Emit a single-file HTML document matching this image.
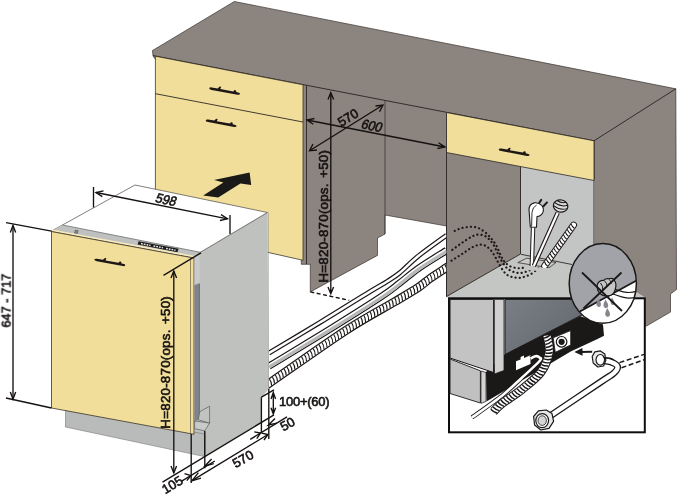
<!DOCTYPE html>
<html lang="en">
<head>
<meta charset="utf-8">
<title>Dishwasher installation dimensions</title>
<style>
html,body{margin:0;padding:0;background:#fff;}
body{width:679px;height:497px;overflow:hidden;}
svg{display:block;}
text{font-family:"Liberation Sans",Arial,sans-serif;font-size:13px;fill:#161312;stroke:#161312;stroke-width:0.6px;}
.ln{stroke:#231f1e;stroke-width:0.85;fill:none;}
.dim{stroke:#151211;stroke-width:1.35;fill:none;}
</style>
</head>
<body>
<svg width="679" height="497" viewBox="0 0 679 497">
<rect width="679" height="497" fill="#fff"/>

<!-- ===== CABINET BLOCK ===== -->
<g id="cabinet" stroke-linejoin="round">
  <!-- gray body: worktop + niche walls + right side -->
  <polygon points="152.5,50.5 234.3,1.5 675.8,88.8 676.5,289.5 670.5,294 670.5,312 646.5,326 594,326 594,300 446.5,296.5 446.5,226 385,215 385,234 377.5,238 377.5,255.4 310.3,291.9 310.3,264.3 301.3,264.3 301.3,258 153,56" fill="#8b847f" stroke="#3a3431" stroke-width="0.7"/>
  <!-- light floor of right cabinet -->
  <polygon points="446.6,296.6 520.5,254 595,266 646,298 448,298" fill="#c4c6c4"/>
  <!-- light back wall of right cabinet -->
  <polygon points="521,166 595,180 595,270 572,264.5 521,254.5" fill="#c3c5c4"/>
  <!-- worktop edges -->
  <path class="ln" d="M594,140.8 L675.8,88.8"/>
  <path class="ln" d="M153,55.6 L594,140.8"/>
  <path class="ln" d="M594,140.8 V300"/>
  <!-- niche lines -->
  <path class="ln" d="M306.5,85.5 V264 M446.5,112.5 V296.5"/>
  <path class="ln" d="M385,100.5 V234" style="stroke-width:0.6"/>
  
  <path class="ln" d="M446.6,296.5 L520.5,254 V167" stroke-width="0.8"/>
  <path class="ln" d="M521,254.3 L572,264.5" stroke-width="0.7"/>
  <!-- left yellow cabinet -->
  <polygon points="155.4,56.2 303,84.8 303,260.3 155.4,227" fill="#f1de9a" stroke="#332d26" stroke-width="0.75"/>
  <path class="ln" d="M155.4,93.7 L303,122"/>
  <!-- right yellow drawer -->
  <polygon points="446.5,112.5 594,140.8 594,180.5 446.5,152.5" fill="#f1de9a" stroke="#2b2624" stroke-width="0.8"/>
  <!-- handles -->
  <g fill="#1d1817">
    <path d="M209.2,88.2 q0.3,-1.1 2.5,-0.8 l6,1 l2,-1.900 l1.500,0.300 l-0.900,2.200 l13,2.400 l1.200,-1.300 l1.500,0.300 l0.300,1.700 l2.500,0.600 q1.500,0.500 1.200,1.400 q-0.400,0.900 -2.400,0.600 l-26,-4.800 q-2.500,-0.700 -2.400,-1.700z"/>
    <path d="M205.7,120.4 q0.3,-1.1 2.5,-0.8 l6,1 l2,-1.900 l1.500,0.300 l-0.900,2.200 l13,2.400 l1.200,-1.300 l1.500,0.300 l0.300,1.700 l2.500,0.600 q1.500,0.500 1.200,1.400 q-0.400,0.900 -2.400,0.600 l-26,-4.800 q-2.500,-0.700 -2.400,-1.700z"/>
    <path d="M498.7,149.4 q0.3,-1.1 2.5,-0.8 l6,1 l2,-1.900 l1.500,0.300 l-0.900,2.200 l13,2.400 l1.200,-1.300 l1.500,0.300 l0.300,1.700 l2.500,0.600 q1.500,0.500 1.200,1.400 q-0.400,0.900 -2.400,0.600 l-26,-4.800 q-2.500,-0.700 -2.400,-1.700z"/>
  </g>
</g>

<!-- ===== HOSES from dishwasher to cabinet ===== -->
<clipPath id="cH"><rect x="268.6" y="200" width="177.6" height="220"/></clipPath>
<g id="hoses" fill="none" stroke-linejoin="round" clip-path="url(#cH)">
  <!-- cable A -->
  <path d="M268.8,353.1 C277.2,348.1 302.5,333.1 319.4,322.8 C336.3,312.6 358.6,298.5 370.0,291.6 C381.4,284.7 382.6,284.3 387.5,281.2 C392.4,278.1 394.3,277.2 399.5,273.0 C404.7,268.8 410.8,262.1 418.6,255.8 C426.5,249.5 441.9,238.6 446.6,235.2" stroke="#1c1817" stroke-width="4.9"/>
  <path d="M268.8,353.1 C277.2,348.1 302.5,333.1 319.4,322.8 C336.3,312.6 358.6,298.5 370.0,291.6 C381.4,284.7 382.6,284.3 387.5,281.2 C392.4,278.1 394.3,277.2 399.5,273.0 C404.7,268.8 410.8,262.1 418.6,255.8 C426.5,249.5 441.9,238.6 446.6,235.2" stroke="#fff" stroke-width="2.5"/>
  <!-- hose B -->
  <path d="M268.8,366.3 C279.8,359.6 316.2,337.7 335.0,326.0 C353.8,314.3 371.1,303.4 381.8,296.3 C392.6,289.2 393.4,287.9 399.5,283.2 C405.6,278.5 410.8,273.7 418.6,268.2 C426.5,262.7 441.9,253.4 446.6,250.4" stroke="#1c1817" stroke-width="7.2"/>
  <path d="M268.8,366.3 C279.8,359.6 316.2,337.7 335.0,326.0 C353.8,314.3 371.1,303.4 381.8,296.3 C392.6,289.2 393.4,287.9 399.5,283.2 C405.6,278.5 410.8,273.7 418.6,268.2 C426.5,262.7 441.9,253.4 446.6,250.4" stroke="#fff" stroke-width="4.8"/>
  <path d="M269.2,367.0 C280.2,360.3 316.6,338.4 335.4,326.7 C354.2,315.0 371.4,304.1 382.2,297.0 C392.9,289.9 393.8,288.6 399.9,283.9 C406.0,279.2 411.1,274.4 419.0,268.9 C426.9,263.4 442.3,254.1 447.0,251.1" stroke="#b7b8b8" stroke-width="3.2"/>
  <!-- corrugated hose C -->
  <path d="M264.0,386.8 C264.8,386.3 255.3,392.9 268.8,383.6 C282.3,374.3 324.0,344.7 345.0,331.0 C366.0,317.3 382.7,308.8 395.0,301.5 C407.3,294.2 412.8,291.0 418.6,287.2 C424.4,283.4 425.3,281.8 430.0,278.5 C434.7,275.2 443.3,269.7 446.6,267.5 C449.9,265.3 449.4,265.7 450.0,265.3" stroke="#1c1817" stroke-width="8.8"/>
  <path d="M264.0,386.8 C264.8,386.3 255.3,392.9 268.8,383.6 C282.3,374.3 324.0,344.7 345.0,331.0 C366.0,317.3 382.7,308.8 395.0,301.5 C407.3,294.2 412.8,291.0 418.6,287.2 C424.4,283.4 425.3,281.8 430.0,278.5 C434.7,275.2 443.3,269.7 446.6,267.5 C449.9,265.3 449.4,265.7 450.0,265.3" stroke="#fff" stroke-width="6.4"/>
  <path d="M263.0,383.5Q265.0,386.1 265.0,390.1M260.8,385.1Q262.8,387.7 262.8,391.7M263.7,383.1Q265.7,385.7 265.8,389.7M266.6,381.1Q268.6,383.7 268.7,387.7M269.5,379.1Q271.6,381.7 271.6,385.7M272.4,377.1Q274.5,379.7 274.5,383.6M275.3,375.0Q277.4,377.6 277.5,381.6M278.2,373.0Q280.3,375.6 280.4,379.6M281.1,371.0Q283.2,373.6 283.3,377.5M284.0,368.9Q286.1,371.5 286.2,375.5M286.9,366.9Q289.0,369.5 289.1,373.4M289.9,364.9Q291.9,367.4 292.0,371.4M292.8,362.8Q294.8,365.4 294.9,369.4M295.7,360.8Q297.7,363.4 297.8,367.3M298.6,358.8Q300.6,361.3 300.7,365.3M301.5,356.7Q303.6,359.3 303.6,363.3M304.4,354.7Q306.5,357.3 306.5,361.2M307.3,352.7Q309.4,355.3 309.5,359.2M310.2,350.6Q312.3,353.2 312.4,357.2M313.2,348.6Q315.2,351.2 315.3,355.2M316.1,346.6Q318.1,349.2 318.2,353.1M319.0,344.6Q321.0,347.2 321.1,351.1M321.9,342.5Q324.0,345.2 324.0,349.1M324.9,340.5Q326.9,343.1 327.0,347.1M327.8,338.5Q329.8,341.1 329.9,345.1M330.8,336.5Q332.8,339.1 332.8,343.1M333.7,334.5Q335.7,337.2 335.7,341.1M336.7,332.6Q338.7,335.2 338.7,339.2M339.6,330.6Q341.6,333.2 341.6,337.2M342.6,328.6Q344.6,331.3 344.6,335.2M345.6,326.7Q347.6,329.3 347.5,333.3M348.6,324.8Q350.6,327.4 350.5,331.4M351.6,322.9Q353.6,325.6 353.4,329.5M354.7,321.0Q356.6,323.7 356.4,327.7M357.7,319.1Q359.6,321.8 359.5,325.8M360.8,317.3Q362.7,320.0 362.5,324.0M363.9,315.5Q365.7,318.2 365.5,322.2M367.0,313.7Q368.8,316.4 368.6,320.4M370.1,311.9Q371.9,314.7 371.6,318.6M373.2,310.1Q375.0,312.9 374.7,316.9M376.3,308.4Q378.0,311.2 377.8,315.1M379.3,306.6Q381.1,309.4 380.8,313.4M382.4,304.9Q384.2,307.7 383.9,311.6M385.5,303.2Q387.3,305.9 387.0,309.9M388.6,301.4Q390.4,304.2 390.1,308.1M391.7,299.6Q393.5,302.4 393.2,306.4M394.7,297.9Q396.5,300.6 396.3,304.5M397.7,296.0Q399.6,298.8 399.4,302.7M400.8,294.2Q402.6,297.0 402.4,300.9M403.8,292.4Q405.7,295.1 405.5,299.1M406.9,290.6Q408.7,293.3 408.5,297.3M409.9,288.8Q411.8,291.5 411.6,295.5M412.9,286.9Q414.8,289.6 414.7,293.6M415.9,285.1Q417.8,287.7 417.7,291.7M418.7,283.1Q420.7,285.7 420.8,289.7M421.4,281.1Q423.6,283.6 423.9,287.6M424.0,278.9Q426.3,281.3 426.7,285.3M426.9,276.6Q429.1,279.1 429.4,283.1M430.0,274.5Q432.0,277.1 432.1,281.1M433.0,272.5Q435.0,275.1 435.0,279.1M435.9,270.5Q437.9,273.2 437.9,277.1M438.9,268.6Q440.9,271.2 440.9,275.2M441.9,266.6Q443.9,269.3 443.8,273.3M444.9,264.7Q446.8,267.3 446.8,271.3M447.8,262.7Q449.8,265.4 449.8,269.4" stroke="#1c1817" stroke-width="1.15"/>
</g>

<!-- dotted hidden hoses -->
<g fill="none" stroke="#1d1817" stroke-width="2.2" stroke-dasharray="0.1 4.1" stroke-linecap="round">
  <path d="M454.7,230.9 C455.7,230.5 458.5,229.0 460.5,228.4 C462.5,227.8 464.8,227.4 466.9,227.2 C469.0,226.9 471.0,226.7 473.0,226.9 C475.0,227.1 476.9,227.3 479.0,228.3 C481.1,229.3 483.8,231.2 485.8,232.8 C487.8,234.5 489.3,236.2 491.0,238.2 C492.7,240.2 494.6,242.7 496.0,245.0 C497.4,247.3 498.2,250.0 499.3,252.3 C500.4,254.6 501.5,257.1 502.5,258.8 C503.5,260.6 504.2,261.6 505.5,262.8 C506.8,264.0 508.2,265.3 510.0,266.2 C511.8,267.1 514.1,267.7 516.0,268.0 C517.9,268.3 519.8,268.3 521.5,268.1 C523.2,267.9 525.2,266.9 526.0,266.6"/>
  <path d="M452.3,249.8 C453.5,248.9 457.2,246.2 459.6,244.5 C462.0,242.8 464.0,241.3 466.4,239.8 C468.8,238.3 471.6,236.6 473.8,235.7 C476.0,234.8 477.6,234.5 479.5,234.6 C481.4,234.7 483.5,235.2 485.2,236.1 C486.9,237.0 488.4,238.5 489.8,240.0 C491.2,241.5 492.4,242.9 493.6,245.0 C494.8,247.1 496.0,249.9 497.2,252.3 C498.4,254.7 499.5,257.2 500.9,259.6 C502.3,262.0 504.1,265.0 505.8,266.9 C507.5,268.8 509.1,269.8 511.0,270.8 C512.9,271.8 515.1,272.6 517.1,272.9 C519.1,273.2 521.0,273.0 523.0,272.6 C525.0,272.2 527.6,271.1 529.3,270.4 C531.0,269.7 532.4,268.6 533.0,268.2"/>
  <path d="M451.5,260.7 C452.7,259.9 456.4,257.5 458.8,256.0 C461.2,254.5 463.4,253.0 465.7,251.5 C468.0,250.0 470.2,248.2 472.6,247.1 C475.0,246.0 477.7,244.9 479.8,244.7 C481.9,244.5 483.7,245.0 485.5,245.8 C487.3,246.7 488.8,248.1 490.4,249.8 C492.0,251.6 493.5,254.0 494.9,256.3 C496.3,258.6 497.4,261.2 498.8,263.6 C500.2,266.0 501.8,268.9 503.3,270.9 C504.8,272.9 506.2,274.3 508.0,275.4 C509.8,276.5 511.9,277.0 513.9,277.4 C515.9,277.8 518.0,278.0 520.0,277.8 C522.0,277.6 524.0,277.0 526.0,276.3 C528.0,275.6 530.2,274.6 532.0,273.4 C533.8,272.2 535.8,270.4 537.0,269.3 C538.2,268.2 539.1,267.2 539.5,266.8"/>
</g>

<!-- ===== things in right cabinet ===== -->
<g id="cabinet-things">
  <!-- slot in floor -->
  <polygon points="517.8,262.6 526.6,258.2 556,262.5 549,267.8" fill="#c9cbc9" stroke="#231f1e" stroke-width="0.7"/>
  <!-- plug cable -->
  <path d="M533.2,224 L531.8,266" stroke="#1c1817" stroke-width="4.4" fill="none"/>
  <path d="M533.2,224 L531.8,266" stroke="#fff" stroke-width="2.4" fill="none"/>
  <!-- plug -->
  <path d="M529,209.5 q0.300,-5.500 5.200,-6.600 q4.600,-0.700 7.600,2.600 q2.800,3.600 0.800,7.600 q-1.800,3.300 -5.600,3.500 l-0.500,10.600 l-6.200,-0.200z" fill="#fff" stroke="#1c1817" stroke-width="1.1" stroke-linejoin="round"/>
  <path d="M531.6,226.500 l0.400,-14 q0.400,-5.500 4.600,-7.500" fill="none" stroke="#1c1817" stroke-width="0.9"/>
  <path d="M539.300,202.700 l1.900,-2.800 M543.400,206.200 l3.600,-3.800" stroke="#1c1817" stroke-width="2" fill="none" stroke-linecap="round"/>
  <!-- shower hose -->
  <path d="M557.7,212.7 L533.8,266" stroke="#1c1817" stroke-width="4.400" fill="none"/>
  <path d="M557.7,212.7 L533.8,266" stroke="#fff" stroke-width="2.200" fill="none"/>
  <g transform="rotate(12 560.6 206)">
    <ellipse cx="560.6" cy="206" rx="7.300" ry="6.100" fill="#dcdcdc" stroke="#1c1817" stroke-width="1.200"/>
    <path d="M553.900,203.800 q6.700,3.600 13.600,0 M553.700,207.200 q6.900,3.600 13.800,0 M555.600,201.200 q5,2.400 10,0" fill="none" stroke="#1c1817" stroke-width="1"/>
  </g>
  <!-- corrugated hose -->
  <path d="M573.6,225 L544.6,266" stroke="#1c1817" stroke-width="6.8" fill="none" stroke-linecap="round"/>
  <path d="M573.6,225 L544.6,266" stroke="#fff" stroke-width="4.8" fill="none" stroke-linecap="round"/>
  <path d="M574.3,228.3Q572.2,227.0 571.2,224.1M572.4,231.0Q570.3,229.7 569.2,226.8M570.5,233.7Q568.4,232.3 567.3,229.5M568.6,236.4Q566.5,235.0 565.4,232.2M566.7,239.1Q564.6,237.7 563.5,234.9M564.8,241.8Q562.7,240.4 561.6,237.6M562.9,244.5Q560.8,243.1 559.7,240.3M561.0,247.2Q558.9,245.8 557.8,243.0M559.1,249.9Q557.0,248.5 555.9,245.7M557.2,252.6Q555.1,251.2 554.0,248.4M555.3,255.3Q553.2,253.9 552.1,251.1M553.4,258.0Q551.3,256.6 550.2,253.8M551.4,260.7Q549.3,259.3 548.3,256.5M549.5,263.3Q547.4,262.0 546.4,259.2M547.6,266.0Q545.5,264.7 544.5,261.8" stroke="#1c1817" stroke-width="1.1" fill="none"/>
  <!-- floor covers bottom of hoses -->
  <polygon points="527,266.500 550,268.200 552,272 526,270" fill="#c4c6c4"/>
</g>

<!-- ===== INSET BOX ===== -->
<g id="inset">
  <rect x="449" y="298.3" width="195.8" height="134" fill="#fff" stroke="#0f0d0d" stroke-width="2"/>
  <!-- black base -->
  <polygon points="486,372 505,354 580,316 603,324.4 604,335.8 597.5,339 570.7,351.4 486.5,401.5" fill="#1b1818"/>
  <!-- back panel -->
  <linearGradient id="gBack" x1="0" y1="0" x2="1" y2="0.6">
    <stop offset="0" stop-color="#7a7f86"/><stop offset="1" stop-color="#62666d"/>
  </linearGradient>
  <polygon points="505,299.4 600,299.4 600,306 579,316.4 505,354.5" fill="url(#gBack)" stroke="#1b1818" stroke-width="1"/>
  <!-- side panel -->
  <polygon points="450,299.4 493.6,299.4 493.6,372.5 450,358" fill="#c2c3c2" stroke="#1b1818" stroke-width="1"/>
  <polygon points="494.4,299.4 504,299.4 504,370.5 494.4,374" fill="#cfd0cf" stroke="#1b1818" stroke-width="0.8"/>
  <!-- plinth -->
  <polygon points="450,359 480.4,370.8 480.4,403 450,393.5" fill="#bfc0bf" stroke="#1b1818" stroke-width="0.9"/>
  <polygon points="481,371 486,372.5 486,401.5 481,403.3" fill="#d2d3d2" stroke="#1b1818" stroke-width="0.7"/>
  <!-- connector -->
  <path d="M516,361.3 l4.6,-1.9 v-2.4 l3.4,-1.4 v2.400 l6.500,-2.700 v8.800 l-14.500,6.200z" fill="#fff"/>
  <!-- white cable -->
  <path d="M530.5,358.6 C531.3,358.2 534.0,356.4 535.5,356.2 C537.0,356.0 538.9,356.8 539.6,357.6 C540.3,358.4 542.6,357.6 539.6,361.0 C536.6,364.4 527.6,372.5 521.4,378.2 C515.2,383.9 510.5,388.8 502.3,395.4 C494.1,401.9 477.1,413.8 472.0,417.5" stroke="#1b1818" stroke-width="4.4" fill="none"/>
  <path d="M530.5,358.6 C531.3,358.2 534.0,356.4 535.5,356.2 C537.0,356.0 538.9,356.8 539.6,357.6 C540.3,358.4 542.6,357.6 539.6,361.0 C536.6,364.4 527.6,372.5 521.4,378.2 C515.2,383.9 510.5,388.8 502.3,395.4 C494.1,401.9 477.1,413.8 472.0,417.5" stroke="#fff" stroke-width="2.6" fill="none"/>
  <!-- corrugated hose -->
  <path d="M547.0,335.5 C547.4,338.2 550.2,345.9 549.2,352.0 C548.2,358.1 545.6,365.7 541.0,372.0 C536.4,378.3 527.9,384.5 521.4,389.7 C514.9,394.9 506.9,399.7 502.3,403.3 C497.7,406.9 495.0,410.1 493.5,411.5" stroke="#1b1818" stroke-width="9" fill="none"/>
  <path d="M547.0,335.5 C547.4,338.2 550.2,345.9 549.2,352.0 C548.2,358.1 545.6,365.7 541.0,372.0 C536.4,378.3 527.9,384.5 521.4,389.7 C514.9,394.9 506.9,399.7 502.3,403.3 C497.7,406.9 495.0,410.1 493.5,411.5" stroke="#fff" stroke-width="7" fill="none"/>
  <path d="M544.0,338.1Q547.4,337.6 550.4,334.9M544.8,341.4Q548.2,340.8 551.1,338.0M545.4,344.5Q548.9,344.0 551.9,341.3M545.9,347.5Q549.4,347.3 552.6,344.9M545.9,350.3Q549.4,350.6 552.9,348.6M545.5,353.0Q548.9,353.8 552.7,352.5M544.8,356.0Q548.1,357.0 552.0,355.9M543.9,358.9Q547.1,360.2 551.1,359.3M542.8,361.8Q545.9,363.3 549.9,362.7M541.5,364.6Q544.5,366.2 548.6,366.0M540.0,367.2Q542.9,369.1 547.0,369.1M538.3,369.7Q541.1,371.9 545.1,372.2M536.5,372.0Q539.0,374.4 543.0,375.2M534.4,374.2Q536.8,376.8 540.7,377.8M532.1,376.4Q534.4,379.1 538.2,380.3M529.7,378.5Q531.9,381.3 535.7,382.6M527.3,380.5Q529.3,383.4 533.1,384.8M524.7,382.6Q526.8,385.4 530.5,386.9M522.2,384.6Q524.2,387.5 527.9,389.0M519.6,386.7Q521.6,389.5 525.3,391.0M517.0,388.7Q519.0,391.6 522.7,393.1M514.4,390.6Q516.3,393.5 520.0,395.2M511.8,392.4Q513.6,395.4 517.3,397.2M509.1,394.3Q510.9,397.3 514.5,399.1M506.4,396.1Q508.2,399.1 511.8,400.9M503.6,398.0Q505.4,401.0 509.1,402.7M500.9,400.0Q502.8,402.9 506.5,404.6M498.1,402.2Q500.2,405.0 504.0,406.4M495.5,404.5Q497.8,407.2 501.6,408.4M493.1,406.9Q495.4,409.5 499.3,410.6M490.8,409.3Q493.1,411.9 497.0,413.0" stroke="#1b1818" stroke-width="1.45" fill="none"/>
  <!-- inlet valve -->
  <path d="M553.2,337.8 L570.7,330.6 V345 L555.3,352.3z" fill="#fff" stroke="#1b1818" stroke-width="0.8"/>
  <circle cx="561.6" cy="341.8" r="5.3" fill="#fff" stroke="#1b1818" stroke-width="1.2"/>
  <circle cx="561.6" cy="341.8" r="3.1" fill="#1b1818"/>
  <!-- arrow -->
  <path d="M592.2,351.8 L580,352" stroke="#1b1818" stroke-width="1.9" fill="none"/>
  <path d="M574.4,352 l8,-4 l0.2,7.800z" fill="#1b1818"/>
  <!-- inlet hose -->
  <path d="M602.0,360.5 C603.5,360.8 608.4,361.0 611.0,362.0 C613.6,363.0 617.0,364.7 617.5,366.5 C618.0,368.3 616.9,370.3 614.0,373.0 C611.1,375.7 610.5,375.4 600.0,382.5 C589.5,389.6 559.2,409.8 551.0,415.3" stroke="#1b1818" stroke-width="7" fill="none"/>
  <path d="M602.0,360.5 C603.5,360.8 608.4,361.0 611.0,362.0 C613.6,363.0 617.0,364.7 617.5,366.5 C618.0,368.3 616.9,370.3 614.0,373.0 C611.1,375.7 610.5,375.4 600.0,382.5 C589.5,389.6 559.2,409.8 551.0,415.3" stroke="#fff" stroke-width="4.4" fill="none"/>
  <!-- nuts -->
  <g stroke="#1b1818" stroke-width="1.2" fill="#e9e9e9" stroke-linejoin="round">
    <path d="M592.2,356.500 l2.600,-4.600 l5.600,-1 l4.400,3 l1,6.500 l-2.200,5.600 l-5.800,1 l-4.600,-4z"/>
    <ellipse cx="600.3" cy="359.800" rx="4.300" ry="5.300" fill="#fff"/>
    <path d="M533.600,416.500 l4.800,-5.700 l7.800,-0.800 l5.800,3.600 l1.600,7.800 l-4.600,7 l-8.200,1.600 l-6.200,-5z"/>
    <ellipse cx="542.2" cy="420.600" rx="6.400" ry="7" fill="#fff"/>
    <ellipse cx="542.2" cy="420.600" rx="4.200" ry="4.800" fill="#d6d6d6" stroke-width="0.8"/>
  </g>
  <path d="M603.5,357.3 C604.6,357.4 608.2,357.8 610.0,358.2 C611.8,358.6 613.3,359.7 614.0,360.0" stroke="#1b1818" stroke-width="1.200" fill="none"/>
  <!-- dashed continuation -->
  <path d="M619.500,362.600 L644,354.400 M621.500,367.800 L644,359.800" stroke="#1b1818" stroke-width="1.500" fill="none" stroke-dasharray="5 2.600"/>
</g>

<!-- ===== WARNING CIRCLE ===== -->
<g id="warn">
  <clipPath id="cEl"><ellipse cx="602.8" cy="283.4" rx="33.6" ry="39.9"/></clipPath>
  <ellipse cx="602.8" cy="283.4" rx="33.6" ry="39.9" fill="#a1a3a8"/>
  <g clip-path="url(#cEl)">
    <polygon points="578,312.5 637,280 640,330 575,330" fill="#fff"/>
    <path d="M579,312 L637,280.2" stroke="#1b1818" stroke-width="1.7"/>
    <path d="M612,288.5 C620,290 626,295 637,291 M612.5,294 C620,296 627,300.5 637,296.5" stroke="#1b1818" stroke-width="1.2" fill="none"/>
    <path d="M597.3,284.5 q1.5,-4.500 6.500,-4.200 q2,-2.300 5.500,-1.500 q3.500,-1.500 5,1.500 q2.500,3.200 1.200,8 q-1,5.800 -5.800,7.400 q-6,1.600 -9.600,-2.200 q-3.600,-3.800 -2.800,-9z" fill="#c6c6c6" stroke="#1b1818" stroke-width="1.2"/>
    <path d="M600.5,283 q3,3 2.300,8 M604.500,280.800 q3,3 2.600,6 M609,279.500 q2.400,1.600 2.500,4" stroke="#1b1818" stroke-width="1" fill="none"/>
    <g fill="#85878d">
      <path d="M598.6,298.600 q-4,6.200 -0.700,8.200 q3.600,0.700 3,-3.600z"/>
      <path d="M605.6,299.600 q-4,6.600 -0.600,8.500 q4,0.600 3,-4z"/>
      <path d="M612,297.600 q-3,5.600 0,7.300 q3.400,0.500 2.300,-3.400z"/>
      <path d="M607.4,308 q-4,6.800 -0.600,8.800 q4,0.600 3,-4z"/>
    </g>
  </g>
  <path d="M582,272.500 L622,311 M621.500,272.500 L583.500,308.500" stroke="#1b1818" stroke-width="1.800" fill="none"/>
  <ellipse cx="602.8" cy="283.4" rx="33.6" ry="39.9" fill="none" stroke="#1b1818" stroke-width="1.500"/>
</g>

<!-- ===== DISHWASHER ===== -->
<g id="dishwasher" stroke-linejoin="round">
  <!-- side -->
  <polygon points="194.3,257 197.5,254 267.5,212.5 268.8,389 261.4,397.2 261.4,423 204.8,456.8 194.3,452" fill="#bfc1be"/>
  <!-- plinth -->
  <polygon points="65.5,408 204.6,434 204.6,456.6 65.5,427" fill="#b9baba" stroke="#77777a" stroke-width="0.6"/>
  <!-- top -->
  <polygon points="51.5,231 135,185 267.5,212.5 197.5,254" fill="#fff" stroke="#4a4644" stroke-width="0.7"/>
  <!-- control strip -->
  <polygon points="51.5,231 62.6,225 200.4,252.3 194.2,257.2" fill="#bfc0c0"/>
  <path d="M62.6,225 L200.4,252.3" stroke="#6f7072" stroke-width="0.8" fill="none"/>
  <polygon points="138.6,241.2 178.6,248.7 177.4,252.2 137.6,244.6" fill="#1d1a1a"/>
  <path d="M141,243.600 l9.500,1.800 M153.500,246 l9.500,1.800 M166,248.400 l9.500,1.800" stroke="#e4e4e4" stroke-width="1.500" stroke-dasharray="1.800 1" fill="none"/>
  <path d="M75.300,230.200 l2.800,0.500 l-0.800,2.800 l-2.800,-0.500z" fill="#8d8d8d" stroke="#444" stroke-width="0.600"/>
  <!-- door -->
  <polygon points="51.5,231.3 194,257.8 194,434.3 51.5,408" fill="#f1de9a" stroke="#3a332a" stroke-width="0.8"/>
  <path d="M52,230.300 L194,256.600" stroke="#f7ebbd" stroke-width="1.500" fill="none"/>
  <path d="M51.500,231.600 L194,258.100" stroke="#4a4130" stroke-width="0.600" fill="none"/>
  <path d="M190.500,257.300 V433.600" stroke="#6a5f45" stroke-width="0.700" fill="none"/>
  <!-- door edge strip -->
  <polygon points="194.5,258 199.7,255 199.7,285 194.5,285" fill="#c9cac9"/>
  <polygon points="194.8,285 199.7,283 199.7,419.6 194.8,421" fill="#7f838c"/>
  <path d="M199.4,284 V419" stroke="#5f636b" stroke-width="0.7" fill="none"/>
  <!-- bracket -->
  <polygon points="199.7,411.8 209.6,406.2 209.6,423.1 198.3,419.8" fill="#c1c3c1" stroke="#5a5b5c" stroke-width="0.7"/>
  <polygon points="194.6,421 209.6,423.1 204.6,430.8 194.6,428.7" fill="#c9cbc9" stroke="#5a5b5c" stroke-width="0.7"/>
  <path d="M204.6,430.8 V456" stroke="#55565a" stroke-width="0.8" fill="none"/>
  <path d="M197.500,254 L267.500,212.500 M268.500,212.500 V389" stroke="#8c8d8c" stroke-width="0.500" fill="none"/>
  <!-- handle -->
  <path d="M94.4,259.6 q0.3,-1.1 2.5,-0.8 l6,1 l2,-1.9 l1.5,0.3 l-0.9,2.2 l13,2.4 l1.2,-1.3 l1.5,0.3 l0.3,1.7 l2.5,0.6 q1.5,0.5 1.2,1.4 q-0.4,0.9 -2.400,0.600 l-26,-4.800 q-2.500,-0.700 -2.400,-1.700z" fill="#1d1817"/>
</g>

<!-- big arrow -->
<polygon points="203.2,195.4 223.4,182.5 214.1,180 249.6,172.4 251.2,185.1 240.4,183.6 218.2,197.5" fill="#1b1818"/>

<!-- ===== DIMENSIONS ===== -->
<g id="dims" class="dim">
  <!-- 647-717 -->
  <path d="M6,222.700 L51.500,231.200 M6,398 L51.500,408 M13,225.500 V399"/>
  <path d="M10.300,232.500 L13,225.500 L15.700,232.500 M10.300,392 L13,399 L15.700,392"/>
  <!-- 598 -->
  <path d="M93.500,187 V207.500 M230,215 V234 M96,192.500 L227.500,218.800"/>
  <path d="M103.500,190.800 L96,192.500 L102.300,196.600 M221,214.600 L227.500,218.800 L220,220.500"/>
  <!-- H on dishwasher -->
  <path d="M163.500,275.300 L201,252.800 M173.800,271 V473"/>
  <path d="M171,278 L173.800,271 L176.600,278 M171,466 L173.800,473 L176.600,466"/>
  <!-- bottom dims -->
  <path d="M162.5,482.2 L274,414.8"/>
  <path d="M181.7,481.2 L214.8,461 M250.2,439.4 L287,416.9"/>
  <path d="M192,480.7 L267.9,434.5"/>
  <path d="M191.2,434 V483 M204.8,431 V468.2 M268.8,389 V439 M261.4,397.2 V432 M261.4,397.2 L274,389.8"/>
  <path d="M184.5,473.6 L191,475.5 L186.8,480.6 M211.6,459 L205,466 L213.8,463.6"/>
  <path d="M198.4,472.6 L192,480.7 L201,478.2"/>
  <path d="M254.2,431.8 L260.6,433 L256.8,438.6 M261.6,433.2 L267.9,434.5 L264,440 M275,418.600 L268.4,425 L277,423.200"/>
  <!-- 100+(60) -->
  <path d="M273.3,392.6 V414 M271,399 L273.3,392.6 L275.6,399 M271,407.8 L273.3,414 L275.6,407.8"/>
  <!-- niche H -->
  <path d="M330.800,92.500 V293.800 M328,99.500 L330.800,92.500 L333.600,99.500 M328,287 L330.800,293.800 L333.600,287"/>
  <path d="M310.300,291.900 L349.200,300.300" stroke-dasharray="4 2.500"/>
  <!-- 600 -->
  <path d="M307,120 L445,147 M314.500,118.500 L307,120 L313.300,124.300 M438.500,142.700 L445,147 L437.500,148.500"/>
  <!-- 570 -->
  <path d="M309.500,150.800 L383,105 M313,144 L309.500,150.800 L317,150 M375.500,106 L383,105 L379.500,111.800"/>
</g>

<g id="labels" opacity="0.999">
  <text transform="translate(10.6,300.6) rotate(-90) scale(0.94,1)" text-anchor="middle" style="font-size:13.6px">647 - 717</text>
  <text transform="translate(166.3,199.8) rotate(11) skewX(-10) scale(0.93,1)" text-anchor="middle" dy="4.5" style="font-size:13.4px">598</text>
  <text transform="translate(170,362.3) rotate(-90)" text-anchor="middle" style="font-size:13.3px" letter-spacing="0.250" word-spacing="1.500">H=820-870(ops. +50)</text>
  <text transform="translate(327.7,216.2) rotate(-90)" text-anchor="middle" style="font-size:13.3px" letter-spacing="0.250" word-spacing="1.500">H=820-870(ops. +50)</text>
  <text transform="translate(348,117.500) rotate(-32)" text-anchor="middle" dy="4.500">570</text>
  <text transform="translate(372,125.8) rotate(11) skewX(-10) scale(0.93,1)" text-anchor="middle" dy="4.5" style="font-size:13.4px">600</text>
  <text x="279" y="406" letter-spacing="-0.25">100+(60)</text>
  <text transform="translate(287.500,424) rotate(-30)" text-anchor="middle" dy="4.500">50</text>
  <text transform="translate(243,459) rotate(-30)" text-anchor="middle" dy="4.500">570</text>
  <text transform="translate(172.3,484.8) rotate(-31)" text-anchor="middle" dy="4.500">105</text>
</g>
</svg>
</body>
</html>
